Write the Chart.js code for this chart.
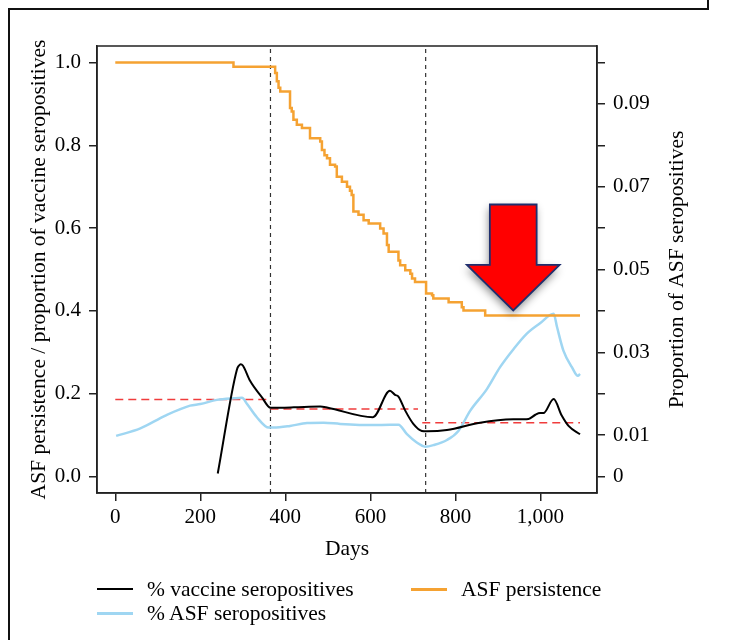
<!DOCTYPE html>
<html><head><meta charset="utf-8">
<script src="https://cdn.jsdelivr.net/npm/chart.js@4.4.0/dist/chart.umd.min.js"></script>
<style>
html,body{margin:0;padding:0;background:#fff;}
#wrap{position:relative;width:733px;height:640px;overflow:hidden;background:#fff;}
canvas{position:absolute;left:0;top:0;}
.frame{position:absolute;background:#111;}
.leg{position:absolute;font-family:"Liberation Serif","DejaVu Serif",serif;font-size:21.5px;color:#000;white-space:nowrap;line-height:24px;}
.sw{position:absolute;height:3px;}
</style></head><body>
<div id="wrap">
<canvas id="c" width="733" height="640"></canvas>
<div class="frame" style="left:8px;top:8px;width:701px;height:2px"></div>
<div class="frame" style="left:707px;top:0;width:2px;height:10px"></div>
<div class="frame" style="left:8px;top:8px;width:2px;height:632px"></div>
<div id="legend"></div>
</div>
<script>
// ---- data ----
const vaccineDays   = [241, 286, 291, 295, 300, 317, 345, 365, 420, 482, 500, 606, 646, 658, 666, 682, 701, 721, 733, 780, 858, 936, 972, 988, 999, 1007, 1031, 1050, 1066, 1093];
const vaccineValues = [0.007, 0.258, 0.268, 0.271, 0.268, 0.231, 0.191, 0.166, 0.167, 0.169, 0.166, 0.143, 0.207, 0.197, 0.193, 0.159, 0.127, 0.110, 0.109, 0.112, 0.130, 0.138, 0.139, 0.149, 0.153, 0.153, 0.187, 0.147, 0.122, 0.102];

const asfSeroDays   = [2, 59, 118, 176, 200, 239, 280, 298, 310, 333, 361, 372, 411, 451, 490, 529, 607, 646, 666, 686, 709, 729, 749, 780, 807, 835, 874, 905, 937, 968, 999, 1031, 1039, 1054, 1074, 1088, 1093];
const asfSeroValues = [0.0098, 0.0116, 0.0147, 0.0171, 0.0175, 0.0185, 0.0189, 0.0190, 0.0175, 0.0143, 0.0118, 0.0118, 0.0122, 0.0129, 0.0130, 0.0127, 0.0124, 0.0125, 0.0125, 0.0102, 0.0082, 0.0072, 0.0076, 0.0088, 0.0110, 0.0159, 0.0211, 0.0264, 0.0308, 0.0345, 0.0370, 0.0393, 0.0361, 0.0304, 0.0264, 0.0243, 0.0248];

const persistenceDays   = [0, 278, 376, 380, 384, 388, 411, 415, 419, 427, 439, 458, 482, 486, 492, 498, 505, 517, 521, 533, 545, 552, 556, 560, 572, 584, 596, 623, 631, 639, 643, 666, 670, 682, 694, 698, 705, 731, 745, 748, 784, 815, 819, 870, 1093];
const persistenceValues = [1.0, 0.99, 0.975, 0.955, 0.939, 0.930, 0.89, 0.882, 0.862, 0.850, 0.842, 0.817, 0.809, 0.789, 0.776, 0.769, 0.753, 0.749, 0.724, 0.712, 0.700, 0.690, 0.680, 0.640, 0.632, 0.619, 0.611, 0.599, 0.587, 0.559, 0.543, 0.522, 0.510, 0.498, 0.490, 0.478, 0.470, 0.442, 0.438, 0.430, 0.421, 0.409, 0.401, 0.389, 0.389];

const baselineStartDays = [0, 365, 722];
const baselineEndDays   = [365, 712, 1093];
const baselineValues    = [0.186, 0.163, 0.130];

const yearMarkDays = [365, 730];

const xTickValues = [0, 200, 400, 600, 800, 1000];
const xTickLabels = ['0', '200', '400', '600', '800', '1,000'];
const leftTickValues = [0, 0.2, 0.4, 0.6, 0.8, 1.0];
const leftTickLabels = ['0.0', '0.2', '0.4', '0.6', '0.8', '1.0'];
const rightTickValues = [0, 0.01, 0.02, 0.03, 0.04, 0.05, 0.06, 0.07, 0.08, 0.09, 0.10];
const rightTickLabels = ['0', '0.01', '', '0.03', '', '0.05', '', '0.07', '', '0.09', ''];

const rightAxisTitle = 'Proportion of ASF seropositives';

// arrow annotation (data units)
const arrowTipDay = 936, arrowTipValue = 0.401, arrowHeadValue = 0.511, arrowTopValue = 0.657;
const arrowShaftHalfDays = 55, arrowHeadHalfDays = 109;

const X_MIN = -43, X_MAX = 1133, Y_MIN = -0.04, Y_MAX = 1.04;

// ---- build datasets ----
const pts = (xs, ys) => xs.map((x, i) => ({x, y: ys[i]}));
const baselinePts = [];
baselineStartDays.forEach((s, i) => {
  baselinePts.push({x: s, y: baselineValues[i]}, {x: baselineEndDays[i], y: baselineValues[i]}, {x: baselineEndDays[i], y: null});
});
const yearPts = [];
yearMarkDays.forEach(d => { yearPts.push({x: d, y: Y_MIN}, {x: d, y: Y_MAX}, {x: d, y: null}); });

const FONT = '"Liberation Serif", "DejaVu Serif", serif';
const ink = '#222';
const TITLE_SIZE = 21.5;

const boxPlugin = {
  id: 'box',
  afterDatasetsDraw(chart) {
    const {ctx, chartArea: a, scales: {x, y, y2}} = chart;
    ctx.save();
    // arrow
    const tipX = x.getPixelForValue(arrowTipDay), tipY = y.getPixelForValue(arrowTipValue);
    const headY = y.getPixelForValue(arrowHeadValue), topY = y.getPixelForValue(arrowTopValue);
    const sL = x.getPixelForValue(arrowTipDay - arrowShaftHalfDays), sR = x.getPixelForValue(arrowTipDay + arrowShaftHalfDays);
    const hL = x.getPixelForValue(arrowTipDay - arrowHeadHalfDays), hR = x.getPixelForValue(arrowTipDay + arrowHeadHalfDays);
    ctx.beginPath();
    ctx.moveTo(sL, topY); ctx.lineTo(sR, topY); ctx.lineTo(sR, headY); ctx.lineTo(hR, headY);
    ctx.lineTo(tipX, tipY); ctx.lineTo(hL, headY); ctx.lineTo(sL, headY); ctx.closePath();
    ctx.shadowColor = 'rgba(0,0,0,0.45)'; ctx.shadowBlur = 9; ctx.shadowOffsetX = -1; ctx.shadowOffsetY = 4;
    ctx.fillStyle = '#ff0000'; ctx.fill();
    ctx.shadowColor = 'transparent';
    ctx.lineWidth = 1.8; ctx.strokeStyle = '#1f2f6e'; ctx.lineJoin = 'miter'; ctx.stroke();
    // plot frame
    ctx.lineWidth = 1.5; ctx.strokeStyle = ink;
    ctx.strokeRect(a.left, a.top, a.right - a.left, a.bottom - a.top);
    // right axis title, reading bottom-to-top like the left one
    ctx.translate(y2.right - 50, (a.top + a.bottom) / 2);
    ctx.rotate(-Math.PI / 2);
    ctx.font = `${TITLE_SIZE}px ${FONT}`;
    ctx.fillStyle = '#000'; ctx.textAlign = 'center'; ctx.textBaseline = 'alphabetic';
    ctx.fillText(rightAxisTitle, 0, 0);
    ctx.restore();
  }
};

const axisGrid = {drawOnChartArea: false, drawTicks: true, tickLength: 8, color: ink, lineWidth: 1.5};
const axisBorder = {display: true, color: ink, width: 1.5};
const tickFont = {family: FONT, size: 21};
const titleFont = {family: FONT, size: TITLE_SIZE};

new Chart(document.getElementById('c'), {
  type: 'line',
  data: {
    datasets: [
      {label: '% vaccine seropositives', data: pts(vaccineDays, vaccineValues), yAxisID: 'y', borderColor: '#000', borderWidth: 2, pointRadius: 0, cubicInterpolationMode: 'monotone'},
      {label: 'ASF persistence', data: pts(persistenceDays, persistenceValues), yAxisID: 'y', borderColor: '#f5a232', borderWidth: 2.5, pointRadius: 0, stepped: true},
      {label: '% ASF seropositives', data: pts(asfSeroDays, asfSeroValues), yAxisID: 'y2', borderColor: '#9fd6f2', borderWidth: 2.5, pointRadius: 0, cubicInterpolationMode: 'monotone'},
      {label: 'baseline', data: baselinePts, yAxisID: 'y', borderColor: '#f03c3c', borderWidth: 1.5, borderDash: [8, 5], pointRadius: 0, spanGaps: false},
      {label: 'years', data: yearPts, yAxisID: 'y', borderColor: '#333', borderWidth: 1.2, borderDash: [4, 4], pointRadius: 0, spanGaps: false}
    ]
  },
  options: {
    responsive: false, animation: false, devicePixelRatio: 1,
    layout: {padding: {top: 46, left: 0, right: 0, bottom: 0}},
    plugins: {legend: {display: false}, tooltip: {enabled: false}},
    scales: {
      x: {
        type: 'linear', position: 'bottom', min: X_MIN, max: X_MAX,
        afterBuildTicks: s => { s.ticks = xTickValues.map(v => ({value: v})); },
        afterFit: s => { s.height = 147; },
        ticks: {font: tickFont, color: '#000', padding: 4, maxRotation: 0, autoSkip: false,
                callback: v => xTickLabels[xTickValues.indexOf(v)]},
        grid: axisGrid, border: axisBorder,
        title: {display: true, text: 'Days', font: titleFont, color: '#000', padding: {top: 0, bottom: 78}}
      },
      y: {
        type: 'linear', position: 'left', min: Y_MIN, max: Y_MAX,
        afterBuildTicks: s => { s.ticks = leftTickValues.map(v => ({value: v})); },
        afterFit: s => { s.width = 97; },
        ticks: {font: tickFont, color: '#000', padding: 8, autoSkip: false,
                callback: v => leftTickLabels[leftTickValues.indexOf(v)]},
        grid: axisGrid, border: axisBorder,
        title: {display: true, text: 'ASF persistence / proportion of vaccine seropositives', font: titleFont, color: '#000', padding: {top: 26, bottom: 0}}
      },
      y2: {
        type: 'linear', position: 'right', min: Y_MIN / 10, max: Y_MAX / 10,
        afterBuildTicks: s => { s.ticks = rightTickValues.map(v => ({value: v})); },
        afterFit: s => { s.width = 136; },
        ticks: {font: tickFont, color: '#000', padding: 8, autoSkip: false,
                callback: (v, i) => rightTickLabels[i]},
        grid: axisGrid, border: axisBorder,
        title: {display: false}
      }
    }
  },
  plugins: [boxPlugin]
});

// HTML legend
const legendItems = [
  {label: '% vaccine seropositives', color: '#000', h: 2, left: 97, top: 577},
  {label: 'ASF persistence', color: '#f5a232', h: 3, left: 411, top: 577},
  {label: '% ASF seropositives', color: '#9fd6f2', h: 3, left: 97, top: 601}
];
const lg = document.getElementById('legend');
legendItems.forEach(it => {
  const sw = document.createElement('div');
  sw.className = 'sw';
  sw.style.cssText = `left:${it.left}px;top:${it.top + 11}px;width:36px;height:${it.h}px;background:${it.color}`;
  lg.appendChild(sw);
  const t = document.createElement('div');
  t.className = 'leg';
  t.style.cssText = `left:${it.left + 50}px;top:${it.top}px`;
  t.textContent = it.label;
  lg.appendChild(t);
});
</script>
</body></html>
